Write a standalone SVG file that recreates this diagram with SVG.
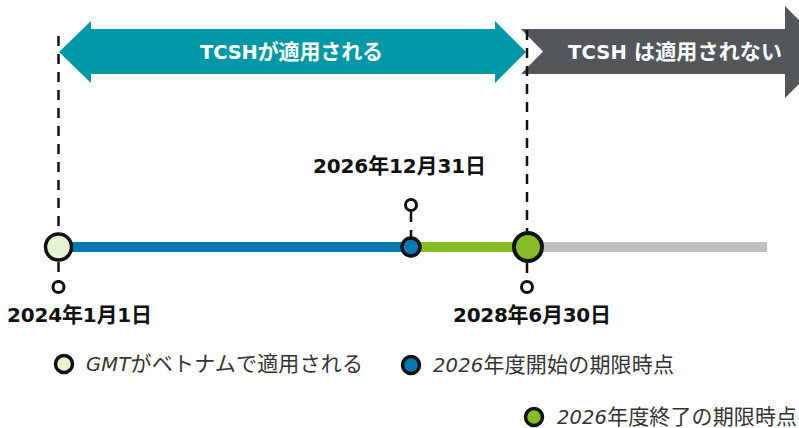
<svg xmlns="http://www.w3.org/2000/svg" width="799" height="428" viewBox="0 0 799 428">
<style>
  .t { font-family: "DejaVu Sans", "Noto Sans CJK JP", sans-serif; }
  .banner { font-size: 19.5px; font-weight: bold; fill: #ffffff; }
  .date { font-size: 20px; font-weight: bold; fill: #111111; }
  .leg { font-size: 19.5px; fill: #333333; }
  .j { font-size: 21px; }
  .it { font-style: italic; }
  .dash { stroke: #111111; stroke-width: 2.5; stroke-dasharray: 10 8; fill: none; }
  .pin { fill: #ffffff; stroke: #111111; stroke-width: 3; }
  .mk { stroke: #111111; }
</style>
<rect width="799" height="428" fill="#ffffff"/>

<g id="arrow-not-applied">
  <polygon points="521,29 785,29 785,6 831,52 785,98 785,74 521,74 543,51.5" fill="#53565A"/>
  <text class="t banner" x="568" y="59" textLength="214">TCSH <tspan class="j">は適用されない</tspan></text>
</g>
<g id="arrow-applied">
  <polygon points="59,52 91,21 91,29 495,29 495,21 526,52 495,83 495,74 91,74 91,83" fill="#0098A7"/>
  <text class="t banner" x="200" y="59" textLength="183">TCSH<tspan class="j">が適用される</tspan></text>
</g>

<g id="timeline">
  <line x1="58" y1="247" x2="411" y2="247" stroke="#0079B1" stroke-width="10"/>
  <line x1="411" y1="247" x2="528" y2="247" stroke="#86BC25" stroke-width="10"/>
  <line x1="528" y1="247" x2="767" y2="247" stroke="#BFBFBF" stroke-width="10"/>
</g>

<g id="connectors">
  <line class="dash" x1="58.5" y1="36" x2="58.5" y2="233"/>
  <line class="dash" x1="58.5" y1="262" x2="58.5" y2="281"/>
  <line class="dash" x1="527" y1="30" x2="527" y2="231"/>
  <line class="dash" x1="527" y1="263" x2="527" y2="281"/>
  <line class="dash" x1="411" y1="212" x2="411" y2="237" stroke-dasharray="7 5"/>
</g>

<g id="node-2024">
  <circle cx="58.5" cy="247" r="13" fill="#E4F3D0" class="mk" stroke-width="3.5"/>
  <circle class="pin" cx="58.5" cy="287" r="5.5"/>
  <text class="t date" x="7" y="322" textLength="145">2024<tspan class="j">年</tspan>1<tspan class="j">月</tspan>1<tspan class="j">日</tspan></text>
</g>
<g id="node-2026">
  <circle cx="411" cy="247" r="9" fill="#0079B1" class="mk" stroke-width="3.5"/>
  <circle class="pin" cx="411" cy="205" r="5.5"/>
  <text class="t date" x="313" y="173" textLength="173">2026<tspan class="j">年</tspan>12<tspan class="j">月</tspan>31<tspan class="j">日</tspan></text>
</g>
<g id="node-2028">
  <circle cx="528" cy="247" r="14" fill="#86BC25" class="mk" stroke-width="4"/>
  <circle class="pin" cx="527" cy="287" r="5.5"/>
  <text class="t date" x="453" y="322" textLength="158">2028<tspan class="j">年</tspan>6<tspan class="j">月</tspan>30<tspan class="j">日</tspan></text>
</g>

<g id="legend-gmt">
  <circle cx="64" cy="364" r="8.5" fill="#E4F3D0" class="mk" stroke-width="3.5"/>
  <text class="t leg" x="86" y="371" textLength="277"><tspan class="it">GMT</tspan><tspan class="j">がベトナムで適用される</tspan></text>
</g>
<g id="legend-start">
  <circle cx="411" cy="365" r="8.5" fill="#0079B1" class="mk" stroke-width="3.5"/>
  <text class="t leg" x="433" y="372" textLength="241"><tspan class="it">2026</tspan><tspan class="j">年度開始の期限時点</tspan></text>
</g>
<g id="legend-end">
  <circle cx="534" cy="417" r="8.5" fill="#86BC25" class="mk" stroke-width="3.5"/>
  <text class="t leg" x="557" y="423.5" textLength="240"><tspan class="it">2026</tspan><tspan class="j">年度終了の期限時点</tspan></text>
</g>
</svg>
